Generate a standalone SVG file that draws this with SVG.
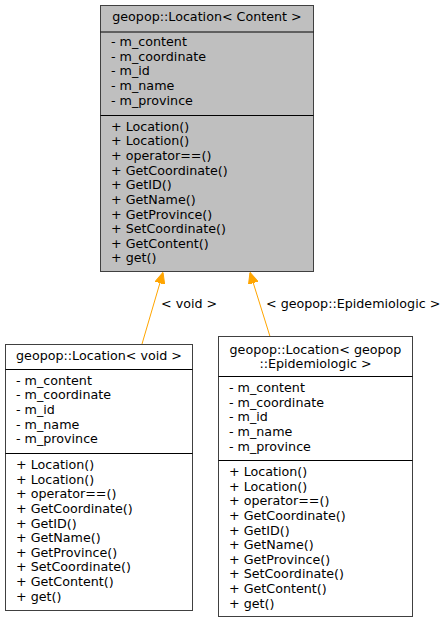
<svg xmlns="http://www.w3.org/2000/svg" width="446" height="624" viewBox="0 0 446 624">
<style>
text{font-family:"DejaVu Sans","Liberation Sans",sans-serif;font-size:12.7px;fill:#000}
.c{text-anchor:middle}
.box{stroke:#404040;stroke-width:1}
.sep{stroke:#000;stroke-width:1}
.edge{stroke:#ffa500;stroke-width:1;fill:none}
</style>
<defs>
<marker id="ah" markerUnits="userSpaceOnUse" viewBox="0 0 11 10" refX="11" refY="5" markerWidth="11" markerHeight="10" orient="auto">
<path d="M0,0 L11,5 L0,10 z" fill="#ffa500" stroke="#ffa500"/>
</marker>
</defs>
<rect width="446" height="624" fill="#fff"/>
<g id="connectors">
<line class="edge" x1="142" y1="344" x2="163" y2="272.5" marker-end="url(#ah)"/>
<text x="161" y="307.5">&lt; void &gt;</text>
<line class="edge" x1="270" y1="336.5" x2="250" y2="272.5" marker-end="url(#ah)"/>
<text x="266" y="307.5">&lt; geopop::Epidemiologic &gt;</text>
</g>
<g id="node-content">
<rect class="box" x="100.5" y="5.5" width="213" height="266" fill="#bfbfbf"/>
<line class="sep" x1="100.5" y1="32" x2="313.5" y2="32"/>
<line class="sep" x1="100.5" y1="115.5" x2="313.5" y2="115.5"/>
<text class="c" x="207" y="21">geopop::Location&lt; Content &gt;</text>
<text x="111" y="46">- m_content</text>
<text x="111" y="60.7">- m_coordinate</text>
<text x="111" y="75.3">- m_id</text>
<text x="111" y="90">- m_name</text>
<text x="111" y="104.7">- m_province</text>
<text x="111" y="130.7">+ Location()</text>
<text x="111" y="145.3">+ Location()</text>
<text x="111" y="160">+ operator==()</text>
<text x="111" y="174.6">+ GetCoordinate()</text>
<text x="111" y="189.2">+ GetID()</text>
<text x="111" y="203.9">+ GetName()</text>
<text x="111" y="218.5">+ GetProvince()</text>
<text x="111" y="233.1">+ SetCoordinate()</text>
<text x="111" y="247.7">+ GetContent()</text>
<text x="111" y="262.4">+ get()</text>
</g>
<g id="node-void">
<rect class="box" x="5.5" y="344.5" width="187" height="266" fill="#fff"/>
<line class="sep" x1="5.5" y1="369.5" x2="192.5" y2="369.5"/>
<line class="sep" x1="5.5" y1="453.5" x2="192.5" y2="453.5"/>
<text class="c" x="99" y="360">geopop::Location&lt; void &gt;</text>
<text x="16" y="384.5">- m_content</text>
<text x="16" y="399.2">- m_coordinate</text>
<text x="16" y="413.8">- m_id</text>
<text x="16" y="428.5">- m_name</text>
<text x="16" y="443.2">- m_province</text>
<text x="16" y="469">+ Location()</text>
<text x="16" y="483.6">+ Location()</text>
<text x="16" y="498.3">+ operator==()</text>
<text x="16" y="512.9">+ GetCoordinate()</text>
<text x="16" y="527.5">+ GetID()</text>
<text x="16" y="542.2">+ GetName()</text>
<text x="16" y="556.8">+ GetProvince()</text>
<text x="16" y="571.4">+ SetCoordinate()</text>
<text x="16" y="586">+ GetContent()</text>
<text x="16" y="600.7">+ get()</text>
</g>
<g id="node-epidemiologic">
<rect class="box" x="218.5" y="336.5" width="194" height="280" fill="#fff"/>
<line class="sep" x1="218.5" y1="376.5" x2="412.5" y2="376.5"/>
<line class="sep" x1="218.5" y1="460.5" x2="412.5" y2="460.5"/>
<text class="c" x="315.5" y="354">geopop::Location&lt; geopop</text>
<text class="c" x="315.5" y="367.5">::Epidemiologic &gt;</text>
<text x="229" y="392">- m_content</text>
<text x="229" y="406.7">- m_coordinate</text>
<text x="229" y="421.3">- m_id</text>
<text x="229" y="436">- m_name</text>
<text x="229" y="450.7">- m_province</text>
<text x="229" y="476">+ Location()</text>
<text x="229" y="490.6">+ Location()</text>
<text x="229" y="505.3">+ operator==()</text>
<text x="229" y="519.9">+ GetCoordinate()</text>
<text x="229" y="534.5">+ GetID()</text>
<text x="229" y="549.2">+ GetName()</text>
<text x="229" y="563.8">+ GetProvince()</text>
<text x="229" y="578.4">+ SetCoordinate()</text>
<text x="229" y="593">+ GetContent()</text>
<text x="229" y="607.7">+ get()</text>
</g>
</svg>
